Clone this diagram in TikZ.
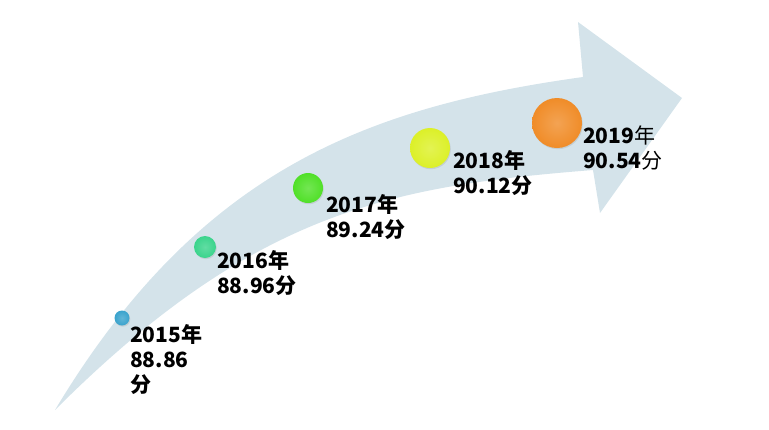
\documentclass[tikz,border=0pt]{standalone}
\usepackage{fontspec}
\newfontfamily\cjk{Noto Sans CJK SC}
\usetikzlibrary{shadows}

\definecolor{arrowblue}{RGB}{212,227,234}
\definecolor{c15}{RGB}{58,163,205}
\definecolor{c16}{RGB}{58,212,140}
\definecolor{c17}{RGB}{80,224,40}
\definecolor{c18}{RGB}{220,240,40}
\definecolor{c19}{RGB}{240,140,40}

\tikzset{
  dot/.style 2 args={circle, inner sep=0pt, minimum size=#1,
    inner color=#2!80!white, outer color=#2,
    drop shadow={opacity=0.2, shadow xshift=0.8pt, shadow yshift=-1.2pt}},
  lbl/.style={anchor=base west, align=left, inner sep=0pt,
    font=\cjk\bfseries\fontsize{21}{25}\selectfont},
}

\begin{document}
\begin{tikzpicture}[x=1pt,y=-1pt]
  \useasboundingbox (0,0) rectangle (769,429);
  % the curved arrow
  \fill[arrowblue] (55,410) .. controls (199,170) and (367,107) .. (583,77)
    -- (578,22) -- (682,98) -- (600,213) -- (593,170)
    .. controls (393,186) and (255,210) .. (55,410) -- cycle;
  % years (label base = last line)
  \node[dot={15pt}{c15}] (d15) at (122,318) {};
  \node[dot={22pt}{c16}] (d16) at (205,247) {};
  \node[dot={30pt}{c17}] (d17) at (308,188) {};
  \node[dot={40pt}{c18}] (d18) at (430,148) {};
  \node[dot={50pt}{c19}] (d19) at (557,123) {};
  \node[lbl] (t15) at (130,392) {2015年\\88.86\\分};
  \node[lbl] (t16) at (217,293) {2016年\\88.96分};
  \node[lbl] (t17) at (326,237) {2017年\\89.24分};
  \node[lbl] (t18) at (453,193) {2018年\\90.12分};
  \node[lbl] (t19) at (583,168) {2019{\mdseries 年}\\90.54{\mdseries 分}};
\end{tikzpicture}
\end{document}
